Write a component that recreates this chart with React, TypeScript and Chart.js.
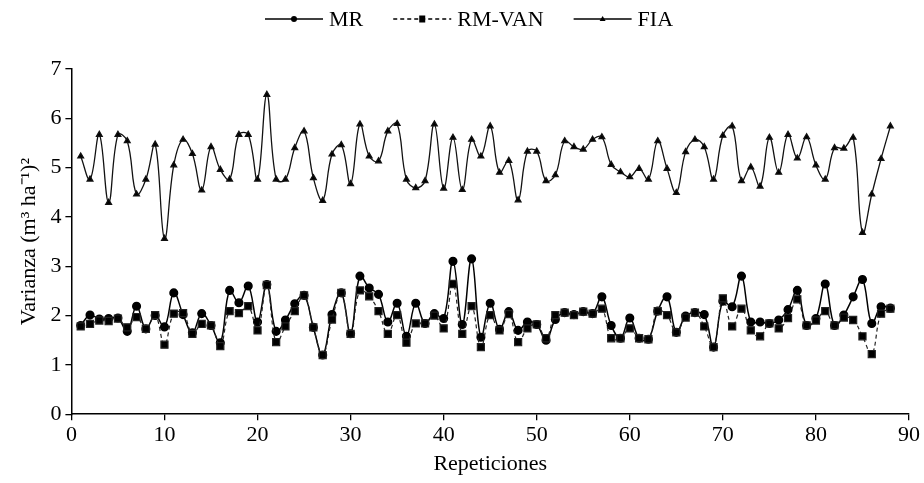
import React, { useEffect, useRef } from "react";
import { Chart, registerables } from "chart.js";

Chart.register(...registerables);

const repeticiones = [
  1, 2, 3, 4, 5, 6, 7, 8, 9, 10, 11, 12, 13, 14, 15, 16, 17, 18, 19, 20, 21, 22,
  23, 24, 25, 26, 27, 28, 29, 30, 31, 32, 33, 34, 35, 36, 37, 38, 39, 40, 41, 42,
  43, 44, 45, 46, 47, 48, 49, 50, 51, 52, 53, 54, 55, 56, 57, 58, 59, 60, 61, 62,
  63, 64, 65, 66, 67, 68, 69, 70, 71, 72, 73, 74, 75, 76, 77, 78, 79, 80, 81, 82,
  83, 84, 85, 86, 87, 88,
];

const mr = [
  1.8, 2.01, 1.93, 1.94, 1.95, 1.68, 2.19, 1.73, 2.0, 1.77, 2.46, 2.02, 1.65, 2.04,
  1.8, 1.45, 2.51, 2.26, 2.6, 1.87, 2.63, 1.68, 1.91, 2.24, 2.41, 1.76, 1.2, 2.02,
  2.46, 1.63, 2.8, 2.56, 2.43, 1.87, 2.25, 1.58, 2.25, 1.84, 2.04, 1.94, 3.1, 1.82,
  3.15, 1.56, 2.25, 1.72, 2.08, 1.7, 1.87, 1.82, 1.5, 1.92, 2.06, 2.02, 2.08, 2.04,
  2.38, 1.8, 1.54, 1.95, 1.54, 1.52, 2.09, 2.38, 1.66, 1.99, 2.06, 2.02, 1.36, 2.29,
  2.18, 2.8, 1.87, 1.87, 1.84, 1.91, 2.12, 2.51, 1.8, 1.94, 2.64, 1.8, 2.01, 2.38,
  2.73, 1.84, 2.18, 2.15,
];

const rmVan = [
  1.78, 1.83, 1.9, 1.89, 1.94, 1.76, 1.97, 1.73, 2.01, 1.41, 2.04, 2.05, 1.63, 1.83,
  1.8, 1.38, 2.09, 2.05, 2.19, 1.7, 2.62, 1.46, 1.78, 2.09, 2.41, 1.76, 1.2, 1.92,
  2.46, 1.63, 2.51, 2.39, 2.09, 1.63, 2.01, 1.45, 1.84, 1.84, 2.0, 1.74, 2.64, 1.63,
  2.19, 1.36, 2.01, 1.7, 2.03, 1.46, 1.74, 1.82, 1.54, 2.01, 2.06, 2.01, 2.08, 2.04,
  2.14, 1.54, 1.54, 1.74, 1.54, 1.52, 2.09, 2.01, 1.66, 1.96, 2.06, 1.78, 1.36, 2.35,
  1.78, 2.14, 1.7, 1.58, 1.84, 1.74, 1.95, 2.33, 1.8, 1.9, 2.09, 1.8, 1.96, 1.91,
  1.58, 1.22, 2.04, 2.14,
];

const fia = [
  5.23, 4.76, 5.67, 4.29, 5.67, 5.54, 4.46, 4.76, 5.47, 3.56, 5.05, 5.57, 5.28, 4.54,
  5.42, 4.96, 4.76, 5.67, 5.67, 4.76, 6.48, 4.76, 4.76, 5.4, 5.74, 4.79, 4.33, 5.27,
  5.46, 4.67, 5.88, 5.23, 5.13, 5.74, 5.89, 4.76, 4.59, 4.73, 5.88, 4.58, 5.61, 4.55,
  5.57, 5.23, 5.84, 4.9, 5.14, 4.34, 5.33, 5.33, 4.73, 4.85, 5.54, 5.42, 5.37, 5.57,
  5.62, 5.06, 4.91, 4.81, 4.98, 4.76, 5.54, 4.98, 4.49, 5.32, 5.57, 5.42, 4.76, 5.65,
  5.84, 4.73, 5.01, 4.62, 5.61, 4.9, 5.67, 5.19, 5.62, 5.05, 4.76, 5.4, 5.39, 5.61,
  3.68, 4.46, 5.18, 5.84,
];

const seriesNames = ["MR", "RM-VAN", "FIA"];
const xTicksMax = 90;
const yTicksMax = 7;

const FONT = "'Liberation Serif', 'Times New Roman', serif";
const FS = 22;

const toPoints = (vals: number[]) => vals.map((v, i) => ({ x: repeticiones[i], y: v }));

const legendPlugin = {
  id: "lineLegend",
  afterDraw(chart: any) {
    const ctx = chart.ctx as CanvasRenderingContext2D;
    const items = chart.data.datasets;
    const lineW = 58;
    const gapText = 6;
    const gapItem = 30;
    ctx.save();
    ctx.font = `${FS}px ${FONT}`;
    const widths = items.map((ds: any) => lineW + gapText + ctx.measureText(ds.label).width);
    let x = 265;
    const y = 19;
    items.forEach((ds: any, k: number) => {
      ctx.strokeStyle = "#000";
      ctx.lineWidth = 1.3;
      ctx.setLineDash(ds.borderDash || []);
      ctx.beginPath();
      ctx.moveTo(x, y);
      ctx.lineTo(x + lineW, y);
      ctx.stroke();
      ctx.setLineDash([]);
      ctx.fillStyle = "#000";
      const cx = x + lineW / 2;
      if (ds.pointStyle === "circle") {
        ctx.beginPath();
        ctx.arc(cx, y, 3, 0, Math.PI * 2);
        ctx.fill();
      } else if (ds.pointStyle === "rect") {
        ctx.fillRect(cx - 3, y - 3.5, 6, 7);
      } else {
        ctx.beginPath();
        ctx.moveTo(cx, y - 3);
        ctx.lineTo(cx + 3, y + 2);
        ctx.lineTo(cx - 3, y + 2);
        ctx.closePath();
        ctx.fill();
      }
      ctx.textBaseline = "middle";
      ctx.textAlign = "left";
      ctx.fillText(ds.label, x + lineW + gapText, y + 1);
      x += widths[k] + gapItem;
    });
    ctx.restore();
  },
};

export default function App() {
  const canvasRef = useRef<HTMLCanvasElement | null>(null);

  useEffect(() => {
    if (!canvasRef.current) return;
    const chart = new Chart(canvasRef.current, {
      type: "line",
      data: {
        datasets: [
          {
            label: seriesNames[0],
            data: toPoints(mr),
            borderColor: "#000",
            backgroundColor: "#000",
            borderWidth: 1.5,
            pointStyle: "circle",
            pointRadius: 3.8,
            tension: 0.4,
            order: 2,
          },
          {
            label: seriesNames[1],
            data: toPoints(rmVan),
            borderColor: "#222",
            backgroundColor: "#000",
            borderWidth: 1.2,
            borderDash: [4, 3],
            pointStyle: "rect",
            pointRadius: 5,
            tension: 0.4,
            order: 1,
          },
          {
            label: seriesNames[2],
            data: toPoints(fia),
            borderColor: "#111",
            backgroundColor: "#000",
            borderWidth: 1.3,
            pointStyle: "triangle",
            pointRadius: 3.3,
            tension: 0.4,
            order: 3,
          },
        ],
      },
      options: {
        animation: false,
        responsive: true,
        maintainAspectRatio: false,
        layout: { padding: { top: 69, right: 15, left: 16, bottom: 6 } },
        plugins: {
          legend: { display: false },
          tooltip: { enabled: false },
        },
        scales: {
          x: {
            type: "linear",
            min: 0,
            max: xTicksMax,
            ticks: {
              stepSize: 10,
              color: "#000",
              font: { family: FONT, size: FS },
              padding: 2,
              maxRotation: 0,
            },
            grid: {
              display: true,
              drawOnChartArea: false,
              drawTicks: true,
              tickLength: 6,
              color: "#000",
              lineWidth: 1.3,
            },
            border: { color: "#000", width: 1.5 },
            title: {
              display: true,
              text: "Repeticiones",
              color: "#000",
              font: { family: FONT, size: FS },
              padding: { top: 0, bottom: 0 },
            },
          },
          y: {
            min: 0,
            max: yTicksMax,
            ticks: {
              stepSize: 1,
              color: "#000",
              font: { family: FONT, size: FS },
              padding: 4,
            },
            grid: {
              display: true,
              drawOnChartArea: false,
              drawTicks: true,
              tickLength: 6,
              color: "#000",
              lineWidth: 1.3,
            },
            border: { color: "#000", width: 1.5 },
            title: {
              display: true,
              text: "Varianza (m³ ha⁻¹)²",
              color: "#000",
              font: { family: FONT, size: FS },
              padding: { top: 0, bottom: 4 },
            },
          },
        },
      },
      plugins: [legendPlugin],
    });
    return () => chart.destroy();
  }, []);

  return (
    <div style={{ position: "absolute", left: 0, top: 0, width: 924, height: 483, background: "#fff" }}>
      <canvas ref={canvasRef} />
    </div>
  );
}
